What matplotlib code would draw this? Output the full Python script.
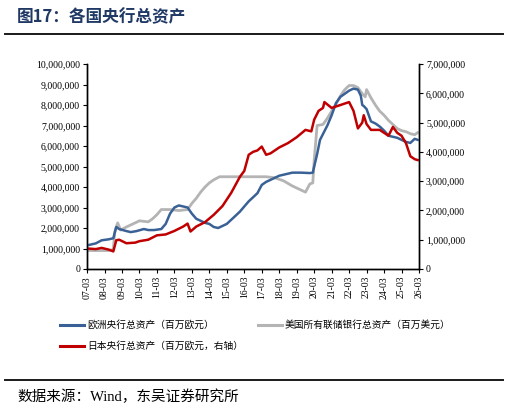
import matplotlib
matplotlib.use("Agg")
import matplotlib.pyplot as plt
import matplotlib.dates as mdates
from matplotlib.lines import Line2D
from matplotlib.ticker import FuncFormatter, MultipleLocator
import pandas as pd

# ECB total assets (EUR mn), left axis
ecb_dates = ["2007-03", "2007-09", "2008-01", "2008-06", "2008-09", "2008-11", "2009-01", "2009-06",
             "2009-09", "2010-01", "2010-06", "2010-09", "2011-01", "2011-06", "2011-09", "2011-12",
             "2012-03", "2012-06", "2012-09", "2012-12", "2013-03", "2013-06", "2013-09", "2013-12",
             "2014-03", "2014-06", "2014-09", "2014-12", "2015-03", "2015-06", "2015-09", "2015-12",
             "2016-03", "2016-06", "2016-09", "2016-12", "2017-03", "2017-06", "2017-09", "2017-12",
             "2018-03", "2018-06", "2018-09", "2018-12", "2019-06", "2019-12", "2020-02", "2020-03",
             "2020-05", "2020-07", "2020-12", "2021-03", "2021-06", "2021-09", "2021-12", "2022-03",
             "2022-06", "2022-09", "2022-11", "2022-12", "2023-01", "2023-03", "2023-06", "2023-09",
             "2023-12", "2024-03", "2024-06", "2024-09", "2024-12", "2025-03", "2025-06", "2025-09",
             "2025-12", "2026-02"]
ecb_vals = [1.15, 1.25, 1.40, 1.45, 1.50, 2.05, 1.95, 1.85,
            1.80, 1.85, 1.95, 1.90, 1.90, 1.95, 2.20, 2.70,
            3.00, 3.10, 3.05, 3.00, 2.70, 2.45, 2.35, 2.25,
            2.20, 2.05, 2.00, 2.10, 2.20, 2.40, 2.60, 2.80,
            3.05, 3.30, 3.50, 3.70, 4.10, 4.25, 4.35, 4.45,
            4.55, 4.60, 4.65, 4.70, 4.70, 4.68, 4.70, 5.00,
            5.60, 6.30, 7.00, 7.50, 8.10, 8.40, 8.55, 8.70,
            8.80, 8.75, 8.45, 8.00, 7.95, 7.80, 7.20, 7.10,
            6.95, 6.75, 6.50, 6.45, 6.40, 6.30, 6.20, 6.15,
            6.35, 6.30]

# Federal Reserve total assets (USD mn), left axis
fed_dates = ["2007-03", "2008-06", "2008-09", "2008-10", "2008-12", "2009-02", "2009-06", "2009-12",
             "2010-03", "2010-09", "2010-12", "2011-03", "2011-06", "2011-12", "2012-06", "2012-12",
             "2013-03", "2013-06", "2013-09", "2013-12", "2014-03", "2014-06", "2014-10", "2015-06",
             "2016-06", "2017-06", "2017-12", "2018-06", "2018-12", "2019-06", "2019-09", "2019-12",
             "2020-02", "2020-03", "2020-05", "2020-09", "2020-12", "2021-03", "2021-06", "2021-09",
             "2021-12", "2022-03", "2022-06", "2022-09", "2022-12", "2023-02", "2023-03", "2023-06",
             "2023-09", "2023-12", "2024-03", "2024-06", "2024-09", "2024-12", "2025-03", "2025-06",
             "2025-09", "2025-12", "2026-02"]
fed_vals = [0.90, 0.90, 0.95, 1.80, 2.25, 1.90, 2.05, 2.25,
            2.35, 2.30, 2.45, 2.65, 2.90, 2.90, 2.85, 2.90,
            3.20, 3.45, 3.75, 4.00, 4.20, 4.35, 4.50, 4.50,
            4.50, 4.50, 4.45, 4.30, 4.05, 3.85, 3.75, 4.15,
            4.20, 5.30, 7.00, 7.05, 7.35, 7.70, 8.05, 8.45,
            8.75, 8.95, 8.95, 8.85, 8.55, 8.40, 8.75, 8.35,
            8.00, 7.70, 7.50, 7.25, 7.05, 6.85, 6.75, 6.70,
            6.60, 6.55, 6.65]

# Bank of Japan total assets, right axis
boj_dates = ["2007-03", "2007-09", "2008-01", "2008-06", "2008-09", "2008-11", "2009-01", "2009-06",
             "2009-12", "2010-03", "2010-09", "2011-03", "2011-09", "2012-03", "2012-09", "2012-12",
             "2013-02", "2013-06", "2013-12", "2014-06", "2014-12", "2015-06", "2015-12", "2016-03",
             "2016-06", "2016-09", "2016-12", "2017-03", "2017-06", "2017-09", "2017-12", "2018-03",
             "2018-09", "2019-03", "2019-09", "2020-01", "2020-03", "2020-06", "2020-09", "2020-10",
             "2021-03", "2021-09", "2022-03", "2022-06", "2022-09", "2022-12", "2023-01", "2023-03",
             "2023-06", "2023-12", "2024-06", "2024-09", "2024-12", "2025-03", "2025-06", "2025-09",
             "2025-12", "2026-02"]
boj_vals = [0.70, 0.68, 0.72, 0.66, 0.60, 0.98, 1.00, 0.88,
            0.90, 0.95, 1.00, 1.15, 1.18, 1.30, 1.45, 1.55,
            1.28, 1.45, 1.60, 1.85, 2.15, 2.60, 3.15, 3.35,
            3.90, 4.00, 4.05, 4.18, 3.90, 3.95, 4.05, 4.15,
            4.30, 4.50, 4.75, 4.70, 5.10, 5.40, 5.50, 5.70,
            5.50, 5.60, 5.70, 5.40, 4.80, 5.00, 5.25, 4.95,
            4.75, 4.75, 4.55, 4.85, 4.65, 4.55, 4.30, 3.85,
            3.75, 3.72]

legend_labels = ["欧洲央行总资产（百万欧元）", "美国所有联储银行总资产（百万美元）", "日本央行总资产（百万欧元，右轴）"]

blue = "#3A6196"
gray = "#B4B4B4"
red = "#C00000"
num_font = "Liberation Serif"
cjk = ["Noto Sans CJK SC", "DejaVu Sans"]

W, H = 509, 413
fig = plt.figure(figsize=(W / 100, H / 100), dpi=100)

ax = fig.add_axes([87 / W, 1 - 269 / H, 332 / W, 205 / H])
ax2 = ax.twinx()

ax.plot(pd.to_datetime(fed_dates), [v * 1e6 for v in fed_vals], color=gray, lw=2.0, zorder=2)
ax.plot(pd.to_datetime(ecb_dates), [v * 1e6 for v in ecb_vals], color=blue, lw=1.8, zorder=3)
ax2.plot(pd.to_datetime(boj_dates), [v * 1e6 for v in boj_vals], color=red, lw=1.8)

ax.set_ylim(0, 10e6)
ax2.set_ylim(0, 7e6)
ax.yaxis.set_major_locator(MultipleLocator(1e6))
ax2.yaxis.set_major_locator(MultipleLocator(1e6))
fmt = FuncFormatter(lambda v, p: f"{int(v):,}")
ax.yaxis.set_major_formatter(fmt)
ax2.yaxis.set_major_formatter(fmt)

ax.set_xlim(pd.Timestamp("2007-03-01"), pd.Timestamp("2026-03-01"))
ax.xaxis.set_major_locator(mdates.MonthLocator(bymonth=3))
ax.xaxis.set_major_formatter(mdates.DateFormatter("%y-%m"))

for a in (ax, ax2):
    a.spines["top"].set_visible(False)
    for s in ("left", "right", "bottom"):
        a.spines[s].set_linewidth(1.0)
    a.tick_params(direction="out", length=3, width=0.8, pad=2, labelsize=7)
    for lab in a.get_yticklabels() + a.get_xticklabels():
        lab.set_fontfamily(num_font)
for lab in ax.get_xticklabels():
    lab.set_rotation(90)

# title and rules
fig.text(17 / W, 1 - 17 / H, "图17：各国央行总资产", fontsize=12, fontweight="bold",
         color="#1F3864", family=cjk, va="center", ha="left")
fig.add_artist(Line2D([5 / W, 503 / W], [1 - 34 / H] * 2, color="#1a1a1a", lw=1.4))
fig.add_artist(Line2D([5 / W, 503 / W], [1 - 380 / H] * 2, color="#1a1a1a", lw=1.4))
fig.text(17 / W, 1 - 397 / H, "数据来源：Wind，东吴证券研究所", fontsize=10.5,
         family=["Liberation Serif", "Noto Sans CJK SC"], va="center", ha="left")

# legend
items = [(60, 325, blue, legend_labels[0]), (258, 325, gray, legend_labels[1]),
         (60, 346, red, legend_labels[2])]
for x0, y0, c, lab in items:
    fig.add_artist(Line2D([x0 / W, (x0 + 24) / W], [1 - y0 / H] * 2, color=c, lw=2.2))
    fig.text((x0 + 27) / W, 1 - y0 / H, lab, fontsize=7, family=cjk, va="center", ha="left")

fig.savefig("out.png", dpi=100)
